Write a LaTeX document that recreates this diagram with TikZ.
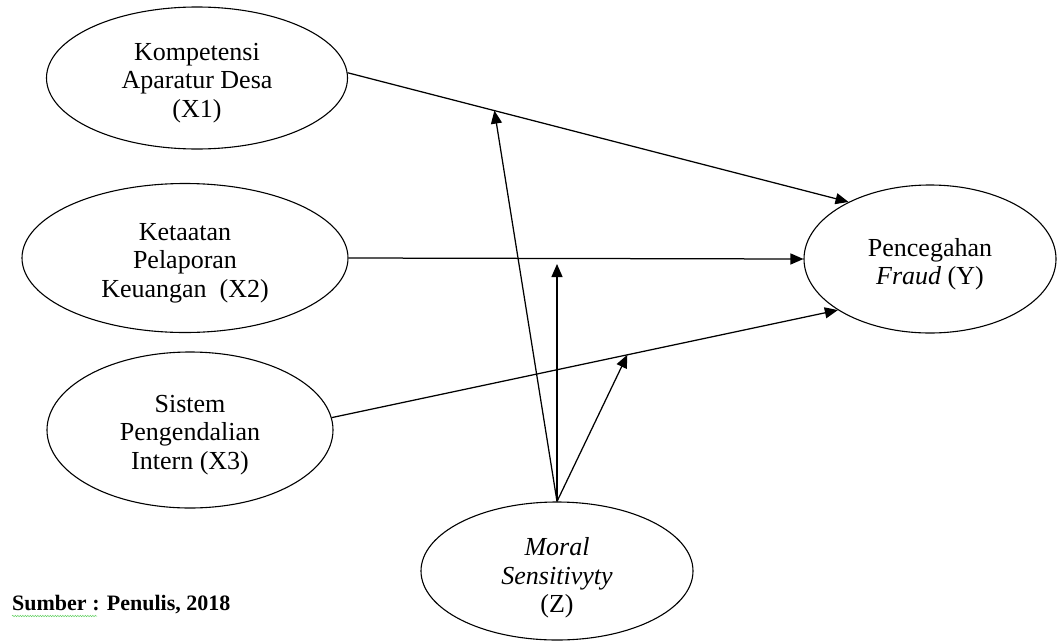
\documentclass[tikz,border=0pt]{standalone}
\usepackage{fontspec}
\setmainfont{Liberation Serif}
\usetikzlibrary{arrows.meta,shapes.geometric,decorations.pathmorphing,calc}
\begin{document}
\begin{tikzpicture}[x=1pt,y=-1pt,
  var/.style={draw, ellipse, line width=1.1pt, inner sep=0pt},
  lab/.style={align=center, inner sep=0pt, yshift=-5pt, font=\fontsize{26}{28.5}\selectfont},
  link/.style={line width=1.25pt, -{Triangle[length=13pt,width=11pt]}}]
\useasboundingbox (0,0) rectangle (1057,643);
\node[var, minimum width=301pt, minimum height=142pt,
  label={[lab]center:{Kompetensi\\Aparatur Desa\\(X1)}}] (X1) at (197,78) {};
\node[var, minimum width=326pt, minimum height=149pt,
  label={[lab]center:{Ketaatan\\Pelaporan\\Keuangan~ (X2)}}] (X2) at (185,258) {};
\node[var, minimum width=286pt, minimum height=156pt,
  label={[lab]center:{Sistem\\Pengendalian\\Intern (X3)}}] (X3) at (190,430) {};
\node[var, minimum width=252pt, minimum height=148pt,
  label={[lab]center:{Pencegahan\\\textit{Fraud} (Y)}}] (Y) at (930,259) {};
\node[var, minimum width=272pt, minimum height=138pt,
  label={[lab, yshift=-2pt]center:{\textit{Moral}\\\textit{Sensitivyty}\\(Z)}}] (Z) at (557,571) {};
\draw[link] (X1.2) -- coordinate[pos=0.293] (m1) (Y.145);
\draw[link] (X2.east) -- (Y.west);
\draw[link] (X3.5) -- coordinate[pos=0.584] (m3) (Y.209);
\coordinate (m2) at ($(Z.north |- X2.east)+(0,6)$);
\draw[link] (Z.north) -- (m1);
\draw[link] (Z.north) -- (m2);
\draw[link] (Z.north) -- (m3);
\node[anchor=base west, inner sep=0pt, font=\bfseries\fontsize{22}{24}\selectfont] (src) at (12,610) {Sumber : Penulis, 2018};
\draw[green!70!black!60, line width=0.5pt, decorate, decoration={snake, amplitude=0.7pt, segment length=2.5pt}] ($(src.base west)+(0,6)$) -- ($(src.base west)+(85,6)$);
\end{tikzpicture}
\end{document}
